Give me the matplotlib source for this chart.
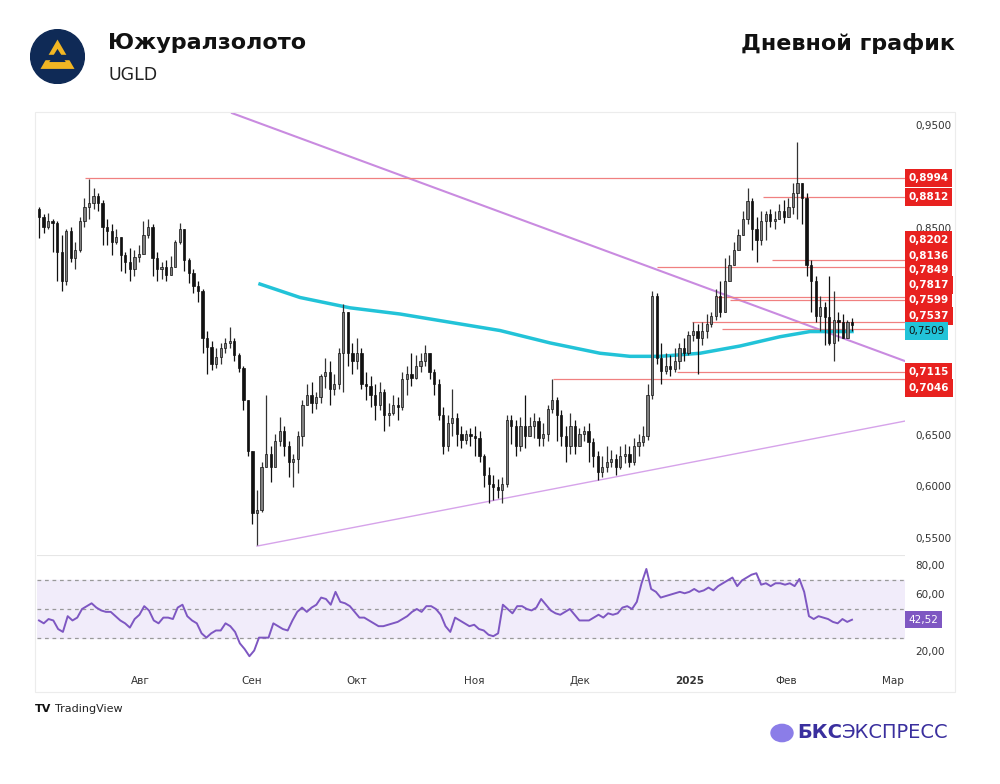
import numpy as np
import matplotlib.pyplot as plt
from matplotlib.patches import Circle, Polygon, Rectangle

# daily candles (open = previous close)
closes = [0.862, 0.852, 0.858, 0.856, 0.828, 0.800, 0.848, 0.822, 0.830, 0.858,
          0.872, 0.876, 0.882, 0.876, 0.852, 0.848, 0.838, 0.843, 0.825, 0.818,
          0.812, 0.823, 0.826, 0.845, 0.852, 0.822, 0.812, 0.814, 0.806, 0.814,
          0.838, 0.850, 0.820, 0.808, 0.795, 0.790, 0.745, 0.736, 0.720, 0.726,
          0.735, 0.740, 0.742, 0.728, 0.716, 0.685, 0.635, 0.575, 0.578, 0.620,
          0.632, 0.620, 0.645, 0.655, 0.640, 0.625, 0.628, 0.650, 0.680, 0.690,
          0.682, 0.688, 0.708, 0.712, 0.695, 0.700, 0.730, 0.770, 0.730, 0.722,
          0.730, 0.700, 0.698, 0.690, 0.680, 0.692, 0.670, 0.672, 0.680, 0.678,
          0.705, 0.710, 0.706, 0.718, 0.722, 0.730, 0.712, 0.700, 0.670, 0.640,
          0.662, 0.667, 0.652, 0.646, 0.652, 0.650, 0.648, 0.630, 0.612, 0.603,
          0.600, 0.598, 0.603, 0.665, 0.660, 0.640, 0.660, 0.650, 0.660, 0.664,
          0.648, 0.652, 0.676, 0.685, 0.670, 0.650, 0.640, 0.660, 0.640, 0.652,
          0.655, 0.644, 0.630, 0.615, 0.620, 0.625, 0.628, 0.620, 0.630, 0.632,
          0.625, 0.640, 0.644, 0.650, 0.690, 0.785, 0.725, 0.713, 0.718, 0.715,
          0.722, 0.735, 0.730, 0.748, 0.752, 0.745, 0.752, 0.758, 0.766, 0.785,
          0.770, 0.800, 0.815, 0.830, 0.845, 0.860, 0.877, 0.850, 0.840, 0.858,
          0.865, 0.858, 0.860, 0.868, 0.862, 0.872, 0.885, 0.895, 0.880, 0.815,
          0.800, 0.766, 0.775, 0.765, 0.740, 0.762, 0.760, 0.745, 0.760, 0.757]
highs = [0.872, 0.865, 0.866, 0.860, 0.858, 0.845, 0.850, 0.852, 0.838, 0.862,
         0.880, 0.899, 0.890, 0.885, 0.878, 0.860, 0.855, 0.850, 0.840, 0.828,
         0.832, 0.830, 0.835, 0.858, 0.860, 0.855, 0.828, 0.818, 0.820, 0.824,
         0.840, 0.856, 0.850, 0.822, 0.812, 0.800, 0.792, 0.752, 0.742, 0.735,
         0.740, 0.745, 0.755, 0.745, 0.730, 0.718, 0.685, 0.590, 0.598, 0.625,
         0.690, 0.640, 0.652, 0.668, 0.660, 0.645, 0.632, 0.655, 0.685, 0.700,
         0.702, 0.692, 0.710, 0.725, 0.722, 0.710, 0.735, 0.778, 0.745, 0.740,
         0.745, 0.735, 0.712, 0.708, 0.700, 0.702, 0.695, 0.682, 0.690, 0.688,
         0.712, 0.718, 0.730, 0.728, 0.730, 0.738, 0.730, 0.715, 0.705, 0.678,
         0.670, 0.695, 0.672, 0.660, 0.656, 0.658, 0.660, 0.655, 0.632, 0.620,
         0.612, 0.608, 0.610, 0.670, 0.670, 0.665, 0.668, 0.690, 0.668, 0.672,
         0.668, 0.662, 0.680, 0.705, 0.688, 0.675, 0.660, 0.672, 0.665, 0.658,
         0.660, 0.662, 0.648, 0.635, 0.630, 0.640, 0.636, 0.632, 0.640, 0.642,
         0.640, 0.648, 0.652, 0.660, 0.700, 0.790, 0.788, 0.740, 0.730, 0.728,
         0.735, 0.740, 0.745, 0.752, 0.760, 0.758, 0.760, 0.768, 0.770, 0.792,
         0.800, 0.822, 0.825, 0.838, 0.850, 0.868, 0.890, 0.880, 0.862, 0.868,
         0.868, 0.870, 0.868, 0.875, 0.878, 0.880, 0.895, 0.935, 0.892, 0.885,
         0.820, 0.805, 0.785, 0.780, 0.805, 0.790, 0.770, 0.768, 0.762, 0.764]
lows = [0.842, 0.846, 0.850, 0.828, 0.800, 0.790, 0.796, 0.818, 0.812, 0.828,
        0.852, 0.860, 0.870, 0.868, 0.835, 0.835, 0.825, 0.836, 0.810, 0.808,
        0.800, 0.805, 0.818, 0.826, 0.842, 0.805, 0.800, 0.802, 0.800, 0.806,
        0.814, 0.836, 0.810, 0.798, 0.788, 0.780, 0.730, 0.710, 0.714, 0.716,
        0.720, 0.730, 0.735, 0.722, 0.712, 0.675, 0.630, 0.565, 0.544, 0.576,
        0.620, 0.605, 0.620, 0.640, 0.630, 0.610, 0.600, 0.614, 0.640, 0.682,
        0.672, 0.676, 0.682, 0.696, 0.680, 0.690, 0.695, 0.692, 0.718, 0.710,
        0.715, 0.695, 0.685, 0.678, 0.665, 0.675, 0.655, 0.660, 0.670, 0.665,
        0.675, 0.690, 0.698, 0.705, 0.712, 0.718, 0.705, 0.690, 0.665, 0.632,
        0.635, 0.650, 0.640, 0.638, 0.642, 0.640, 0.630, 0.625, 0.600, 0.585,
        0.588, 0.590, 0.585, 0.600, 0.642, 0.630, 0.635, 0.638, 0.650, 0.648,
        0.640, 0.640, 0.645, 0.672, 0.645, 0.640, 0.625, 0.632, 0.632, 0.642,
        0.645, 0.625, 0.620, 0.607, 0.610, 0.615, 0.620, 0.612, 0.618, 0.624,
        0.620, 0.622, 0.630, 0.640, 0.646, 0.686, 0.720, 0.700, 0.710, 0.708,
        0.712, 0.715, 0.722, 0.728, 0.742, 0.710, 0.738, 0.745, 0.755, 0.762,
        0.765, 0.770, 0.800, 0.815, 0.830, 0.845, 0.855, 0.830, 0.818, 0.835,
        0.840, 0.852, 0.850, 0.860, 0.856, 0.862, 0.865, 0.860, 0.855, 0.805,
        0.770, 0.760, 0.752, 0.738, 0.738, 0.722, 0.742, 0.745, 0.752, 0.752]
first_open = 0.870

rsi = [42, 40, 43, 42, 36, 34, 45, 42, 44, 50, 52, 54, 51, 49, 48, 48, 45, 42, 40, 37,
       43, 46, 52, 49, 42, 40, 44, 44, 43, 51, 53, 45, 42, 40, 33, 30, 33, 35, 35, 40,
       38, 34, 26, 22, 17, 21, 30, 30, 30, 40, 38, 36, 35, 42, 48, 51, 48, 51, 53, 58,
       57, 53, 62, 55, 54, 52, 48, 44, 44, 42, 40, 38, 38, 39, 40, 41, 43, 45, 48, 50,
       48, 52, 52, 50, 46, 38, 34, 44, 42, 40, 38, 39, 36, 35, 32, 31, 33, 53, 50, 47,
       52, 52, 50, 49, 51, 57, 53, 49, 47, 46, 48, 50, 46, 42, 42, 42, 44, 46, 44, 47,
       46, 47, 51, 52, 50, 55, 68, 78, 64, 62, 58, 59, 60, 61, 62, 61, 62, 64, 62, 63,
       65, 63, 66, 68, 70, 72, 66, 70, 72, 74, 75, 67, 68, 66, 68, 68, 67, 68, 66, 71,
       62, 45, 43, 45, 44, 43, 41, 40, 43, 41, 42.52]

# 200-day average, read at pixel x positions
ma_px = [260, 300, 350, 400, 450, 500, 550, 600, 630, 660, 700, 740, 780, 810, 852]
ma_val = [0.797, 0.784, 0.774, 0.768, 0.760, 0.752, 0.740, 0.730, 0.727, 0.727, 0.730, 0.737, 0.746, 0.751, 0.751]

levels = [0.8994, 0.8812, 0.8202, 0.8136, 0.7849, 0.7817, 0.7599, 0.7537, 0.7115, 0.7046]
level_px = [85, 763, 772, 657, 717, 730, 692, 722, 677, 553]
label_y = [178, 197, 240, 256, 270, 285, 300, 316, 372, 388]

months = ['Авг', 'Сен', 'Окт', 'Ноя', 'Дек', '2025', 'Фев', 'Мар']
month_px = [140, 252, 357, 474, 580, 690, 786, 893]

n = len(closes)
step = (852 - 39) / (n - 1)
def px2i(px):
    return (px - 39) / step
def py2p(py):
    return 0.95 - (py - 126) / 1032.5

fig = plt.figure(figsize=(10, 7.84), dpi=100)
fig.patch.set_facecolor('white')
ax = fig.add_axes([0.037, 0.292, 0.868, 0.565])
ax2 = fig.add_axes([0.037, 0.148, 0.868, 0.144])

opens = [first_open] + closes[:-1]
for i in range(n):
    o, c = opens[i], closes[i]
    h = max(highs[i], o, c)
    l = min(lows[i], o, c)
    up = c >= o
    ax.vlines(i, l, h, color='#111111' if not up else '#333333', lw=0.9, zorder=3)
    ax.add_patch(Rectangle((i - 0.25, min(o, c)), 0.5, max(abs(c - o), 0.001),
                           facecolor='#808080' if up else '#111111',
                           edgecolor='#111111', lw=0.5, zorder=4))

ax.plot([px2i(p) for p in ma_px], ma_val, color='#22c3d8', lw=2.5, zorder=2)
ax.plot([px2i(232), px2i(905)], [0.9626, 0.7224], color='#c98be0', lw=1.5, zorder=1)
ax.plot([px2i(257), px2i(905)], [0.5432, 0.6643], color='#d6a3ea', lw=1, zorder=1)

xr = px2i(905)
for lv, lp in zip(levels, level_px):
    ax.hlines(lv, px2i(lp), xr, color='#f08080', lw=0.9, zorder=1)

ax.set_xlim(px2i(37), xr)
ax.set_ylim(py2p(555), py2p(112))
ax2.set_xlim(px2i(37), xr)
ax2.set_ylim(8.8, 87.7)
for a in (ax, ax2):
    a.set_xticks([])
    a.set_yticks([])
    for s in a.spines.values():
        s.set_visible(False)

# right price scale
for v in [0.95, 0.85, 0.65, 0.60, 0.55]:
    ax.text(1.012, v, f'{v:.4f}'.replace('.', ','), transform=ax.get_yaxis_transform(),
            va='center', ha='left', fontsize=7.5, color='#333333')
for lv, ly in zip(levels, label_y):
    ax.text(1.004, py2p(ly), f'{lv:.4f}'.replace('.', ','), transform=ax.get_yaxis_transform(),
            va='center', ha='left', fontsize=7.5, color='white', fontweight='bold',
            bbox=dict(boxstyle='square,pad=0.35', fc='#e8211f', ec='none'), clip_on=False)
ax.text(1.004, py2p(331), '0,7509', transform=ax.get_yaxis_transform(),
        va='center', ha='left', fontsize=7.5, color='#111111',
        bbox=dict(boxstyle='square,pad=0.35', fc='#22c3d8', ec='none'), clip_on=False)

# RSI panel
rx = np.linspace(0, n - 1, len(rsi))
ax2.axhspan(30, 70, color='#f1ecfa', zorder=0)
for lv in [70, 50, 30]:
    ax2.axhline(lv, color='#999999', ls=(0, (3, 3)), lw=0.9)
ax2.plot(rx, rsi, color='#7e57c2', lw=1.4)
for v in [80, 60, 20]:
    ax2.text(1.012, v, f'{v},00', transform=ax2.get_yaxis_transform(),
             va='center', ha='left', fontsize=7.5, color='#333333')
ax2.text(1.004, rsi[-1], '42,52', transform=ax2.get_yaxis_transform(),
         va='center', ha='left', fontsize=7.5, color='white',
         bbox=dict(boxstyle='square,pad=0.35', fc='#7e57c2', ec='none'), clip_on=False)
ax2.axhline(87.6, color='#e6e6e6', lw=0.8)

for m, mp in zip(months, month_px):
    fig.text(mp / 1000, 1 - 681 / 784, m, ha='center', va='center', fontsize=7.5,
             color='#333333', fontweight='bold' if m == '2025' else 'normal')

# outer panel frame
fig.add_artist(Rectangle((0.035, 1 - 692 / 784), 0.92, 580 / 784, transform=fig.transFigure,
                         fill=False, ec='#ececec', lw=0.8))

# header
lax = fig.add_axes([0.030, 1 - 84 / 784, 0.055, 0.07])
lax.set_xlim(-1, 1); lax.set_ylim(-1, 1); lax.set_aspect('equal'); lax.axis('off')
lax.add_patch(Circle((0, 0), 0.98, color='#0f2a56'))
lax.add_patch(Polygon([[0, 0.62], [-0.62, -0.45], [0.62, -0.45]], closed=True, fc='#f2b623'))
lax.add_patch(Polygon([[0, 0.28], [-0.3, -0.2], [0.3, -0.2]], closed=True, fc='#0f2a56'))
lax.add_patch(Rectangle((-0.75, -0.1), 1.5, 0.14, color='#0f2a56'))

fig.text(0.108, 1 - 43 / 784, 'Южуралзолото', fontsize=16, fontweight='bold', va='center', color='#111111')
fig.text(0.108, 1 - 75 / 784, 'UGLD', fontsize=12.5, va='center', color='#222222')
fig.text(0.955, 1 - 43 / 784, 'Дневной график', fontsize=16, fontweight='bold', va='center', ha='right', color='#111111')
fig.text(0.035, 1 - 709 / 784, 'TV', fontsize=8, va='center', color='#111111', fontweight='heavy')
fig.text(0.055, 1 - 709 / 784, 'TradingView', fontsize=8, va='center', color='#222222')
fig.add_artist(Circle((0.782, 1 - 733 / 784), 0.011, transform=fig.transFigure, color='#8b7de8'))
fig.text(0.797, 1 - 733 / 784, 'БКС', fontsize=14, fontweight='bold', va='center', color='#3a2f9e')
fig.text(0.842, 1 - 733 / 784, 'ЭКСПРЕСС', fontsize=14, va='center', color='#3a2f9e')

fig.savefig('out.png', dpi=100)
